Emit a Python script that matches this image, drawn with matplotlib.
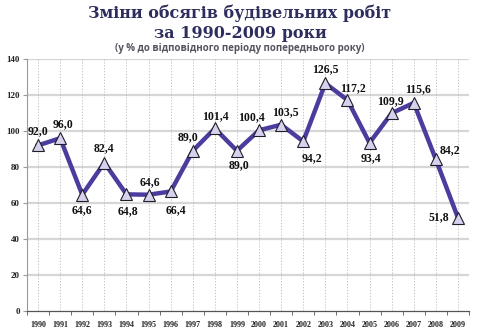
import matplotlib
matplotlib.use("Agg")
import matplotlib.pyplot as plt
import numpy as np

# data
years = [str(y) for y in range(1990, 2010)]
values = [92.0, 96.0, 64.6, 82.4, 64.8, 64.6, 66.4, 89.0, 101.4, 89.0,
          100.4, 103.5, 94.2, 126.5, 117.2, 93.4, 109.9, 115.6, 84.2, 51.8]
labels = [f"{v:.1f}".replace(".", ",") for v in values]

# label offsets in pixels (dx, dy), positive dy = above the point
offsets = [(0, 14), (3, 14), (0, -15), (0, 15), (1, -17), (1, 13), (5, -19),
           (-5, 14), (1, 12), (2, -14), (-8, 13), (4, 13), (9, -17), (0, 14),
           (6, 12), (1, -15), (-1, 12), (4, 14), (14, 9), (-19, 1)]

line_col = "#4b3c9e"
title_col = "#2e2e5e"

fig = plt.figure(figsize=(4.8, 3.31), dpi=100)
ax = fig.add_axes([27 / 480, 1 - 311 / 331, 442 / 480, 252 / 331])

x = np.arange(len(years))
ax.plot(x, values, color=line_col, lw=3.2, zorder=3, solid_joinstyle="miter")
ax.plot(x, values, ls="none", marker="^", ms=8.5, mfc="#d8d0ec",
        mec="#1e1e2a", mew=0.8, zorder=4)

for xi, v, lab, (dx, dy) in zip(x, values, labels, offsets):
    ax.annotate(lab, (xi, v), xytext=(dx, dy), textcoords="offset pixels",
                ha="center", va="center", fontsize=8.5, fontweight="bold",
                family="Liberation Serif", color="#111", zorder=5)

ax.set_xlim(-0.5, len(years) - 0.5)
ax.set_ylim(0, 140)
ax.set_yticks(np.arange(0, 141, 20))
ax.set_xticks(x)
ax.set_xticklabels(years)
ax.set_xticks(np.arange(-0.5, len(years), 1), minor=True)

# grid: solid light horizontal, dotted vertical
for yv in range(20, 141, 20):
    ax.axhline(yv, color="#d6d6d6", lw=1.6, zorder=1)
for xi in x:
    ax.axvline(xi, color="#b8b8b8", lw=0.6, ls=(0, (1.5, 2)), zorder=1)

for s in ["top", "right"]:
    ax.spines[s].set_visible(False)
ax.spines["left"].set_color("#999")
ax.spines["bottom"].set_color("#555")
ax.spines["left"].set_linewidth(0.8)
ax.spines["bottom"].set_linewidth(0.9)

ax.tick_params(axis="x", which="major", length=0, pad=7)
ax.tick_params(axis="x", which="minor", length=3, color="#555")
ax.tick_params(axis="y", length=3, color="#999", pad=2)
for t in ax.get_xticklabels():
    t.set_fontsize(5.8)
    t.set_fontweight("bold")
    t.set_family("Liberation Serif")
    t.set_color("#222")
for t in ax.get_yticklabels():
    t.set_fontsize(6.5)
    t.set_fontweight("bold")
    t.set_family("Liberation Serif")
    t.set_color("#222")

fig.text(0.5, 1 - 13 / 331, "Зміни обсягів будівельних робіт", ha="center",
         va="center", fontsize=11.5, fontweight="bold", family="DejaVu Serif",
         color=title_col)
fig.text(0.5, 1 - 33 / 331, "за 1990-2009 роки", ha="center", va="center",
         fontsize=11.5, fontweight="bold", family="DejaVu Serif",
         color=title_col)
fig.text(0.5, 1 - 48 / 331, "(у % до відповідного періоду попереднього року)",
         ha="center", va="center", fontsize=7, fontweight="bold",
         family="Open Sans", color="#555560")

fig.savefig("out.png", dpi=100)
